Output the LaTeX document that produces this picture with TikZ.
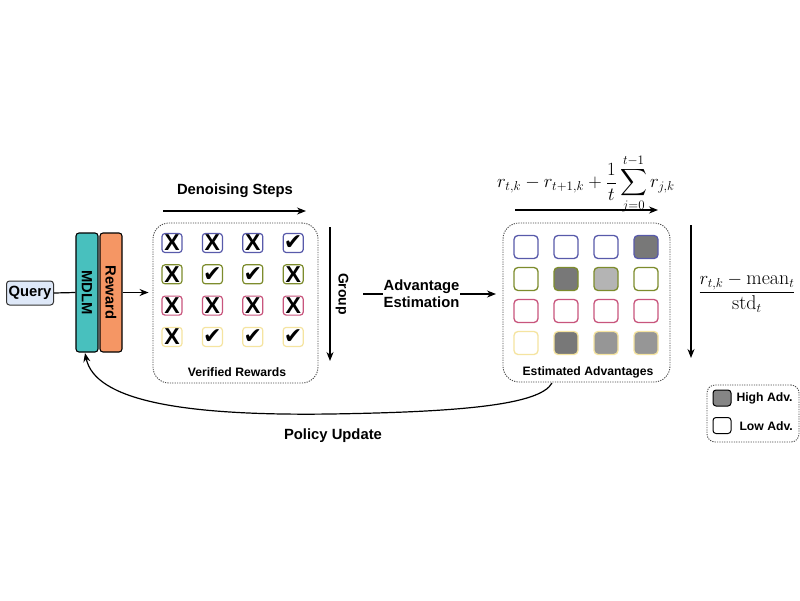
\documentclass[tikz,border=0pt]{standalone}
\usepackage{fontspec}
\usepackage{amsmath}
\usepackage{graphicx}
\newfontfamily\lsans{Liberation Sans}
\newfontfamily\dvs{DejaVu Sans}
\usetikzlibrary{arrows.meta,calc}
\definecolor{blueB}{RGB}{88,90,170}
\definecolor{greenB}{RGB}{125,140,45}
\definecolor{pinkB}{RGB}{200,85,125}
\definecolor{yellowB}{RGB}{245,228,160}
\definecolor{tealF}{RGB}{72,192,190}
\definecolor{orangeF}{RGB}{245,150,100}
\definecolor{queryF}{RGB}{222,232,248}
\definecolor{gA}{RGB}{120,120,120}
\definecolor{gB}{RGB}{150,150,150}
\definecolor{gC}{RGB}{180,180,180}
\newcommand{\XX}{{\lsans\bfseries\fontsize{23}{23}\selectfont X}}
\newcommand{\CK}{{\dvs\fontsize{22}{22}\selectfont ✔}}
\begin{document}
\begin{tikzpicture}[x=1pt,y=-1pt,
  lbl/.style={font=\lsans\bfseries\fontsize{14.8}{17}\selectfont},
  capt/.style={font=\lsans\bfseries\fontsize{12.2}{14}\selectfont},
  arr/.style={-{Stealth[length=9pt,width=7pt]}, line width=1.2pt},
  grp/.style={draw=black!70, dash pattern=on 1.2pt off 1.2pt, line width=0.9pt, rounded corners=16pt, inner sep=0pt},
  vcell/.style={draw=#1, line width=1.2pt, rounded corners=3pt, minimum width=20pt, minimum height=19pt, inner sep=0pt},
  ecell/.style={draw=#1, line width=1.3pt, rounded corners=4pt, minimum width=24pt, minimum height=23pt, inner sep=0pt},
  bar/.style={draw=black, line width=1.1pt, rounded corners=3pt, minimum width=22pt, minimum height=119pt, inner sep=0pt}
]
\useasboundingbox[fill=white] (0,0) rectangle (800,600);

% Query, MDLM, Reward
\node[draw=black!80, fill=queryF, line width=1pt, rounded corners=3pt, minimum width=47pt, minimum height=24pt, inner sep=0pt, lbl] (query) at (30,293) {Query};
\node[bar, fill=tealF] (mdlm) at (87,292.5) {};
\node[lbl, rotate=-90] (mdlmt) at (mdlm) {MDLM};
\node[bar, fill=orangeF] (reward) at (111,292.5) {};
\node[lbl, rotate=-90] (rewardt) at (reward) {Reward};
\draw[line width=1.2pt] (query.east) -- (mdlm.west);

% Verified box
\node[grp, minimum width=165pt, minimum height=160pt] (vbox) at (235.5,303) {};
\node[capt] (vcap) at (237,372) {Verified Rewards};
\draw[arr, shorten >=4pt] (reward.east) -- (vbox.west |- reward.east);

\foreach \r/\cl/\a/\b/\c/\d in {0/blueB/\XX/\XX/\XX/\CK, 1/greenB/\XX/\CK/\CK/\XX, 2/pinkB/\XX/\XX/\XX/\XX, 3/yellowB/\XX/\CK/\CK/\CK}{
  \foreach [count=\i from 0] \s in {\a,\b,\c,\d}{
    \node[vcell=\cl] (v\r\i) at ({172+40.4*\i},{243+31.3*\r}) {\s};
  }
}

% Denoising steps
\coordinate (d0) at (163,211);
\coordinate (d1) at (306,211);
\draw[arr] (d0) -- (d1);
\node[lbl] (dlab) at (235,191) {Denoising Steps};

% Group
\coordinate (g0) at (330,227);
\coordinate (g1) at (330,361);
\draw[arr] (g0) -- (g1);
\node[lbl, font=\lsans\bfseries\fontsize{14}{15}\selectfont, rotate=-90] (glab) at (342,294) {Group};

% Advantage estimation
\coordinate (a0) at (363,294);
\coordinate (a1) at (496,294);
\draw[arr] (a0) -- (a1) node[pos=0.44, fill=white, inner sep=1pt, lbl, align=center, font=\lsans\bfseries\fontsize{14.8}{17}\selectfont] (alab) {Advantage\\Estimation};

% Estimated box
\node[grp, minimum width=167pt, minimum height=159pt] (ebox) at (586.5,302.5) {};
\node[capt] (ecap) at (588,372) {Estimated Advantages};
\foreach \r/\cl/\a/\b/\c/\d in {0/blueB/white/white/white/gA, 1/greenB/white/gA/gC/white, 2/pinkB/white/white/white/white, 3/yellowB/white/gA/gB/gB}{
  \foreach [count=\i from 0] \s in {\a,\b,\c,\d}{
    \node[ecell=\cl, fill=\s] (e\r\i) at ({526+40*\i},{247+32*\r}) {};
  }
}

% Top formula + arrow
\coordinate (t0) at (515,210);
\coordinate (t1) at (658,210);
\draw[arr] (t0) -- (t1);
\node[font=\fontsize{18.5}{22}\selectfont, inner sep=0pt] (tf) at (586,184) {\scalebox{1.08}{$\displaystyle r_{t,k}-r_{t+1,k}+\frac{1}{t}\sum_{j=0}^{t-1} r_{j,k}$}};

% Right arrow + formula
\coordinate (r0) at (691,225);
\coordinate (r1) at (691,358);
\draw[arr] (r0) -- (r1);
\node[font=\fontsize{18.5}{22}\selectfont, inner sep=0pt] (rf) at (747,293) {\scalebox{1.08}{$\displaystyle\frac{r_{t,k}-\mathrm{mean}_t}{\mathrm{std}_t}$}};

% Legend
\node[grp, rounded corners=8pt, minimum width=92pt, minimum height=57pt] (leg) at (753,413.5) {};
\node[draw=black, line width=1pt, rounded corners=3pt, fill=gA!90, minimum width=18pt, minimum height=16pt, inner sep=0pt] (hs) at (722,398) {};
\node[draw=black, line width=1pt, rounded corners=3pt, fill=white, minimum width=18pt, minimum height=16pt, inner sep=0pt] (ls) at (722,425.5) {};
\node[capt, anchor=west] (ht) at (733,398) {High Adv.};
\node[capt, anchor=west] (lt) at (736,426) {Low Adv.};

% Policy update
\coordinate (p0) at (552,383);
\coordinate (pm) at (330,414);
\coordinate (p1) at (85,353);
\draw[arr] (p0) .. controls (540,405) and (460,412) .. (pm) .. controls (180,416) and (95,400) .. (p1);
\node[lbl] (plab) at (333,436) {Policy Update};
\end{tikzpicture}
\end{document}
